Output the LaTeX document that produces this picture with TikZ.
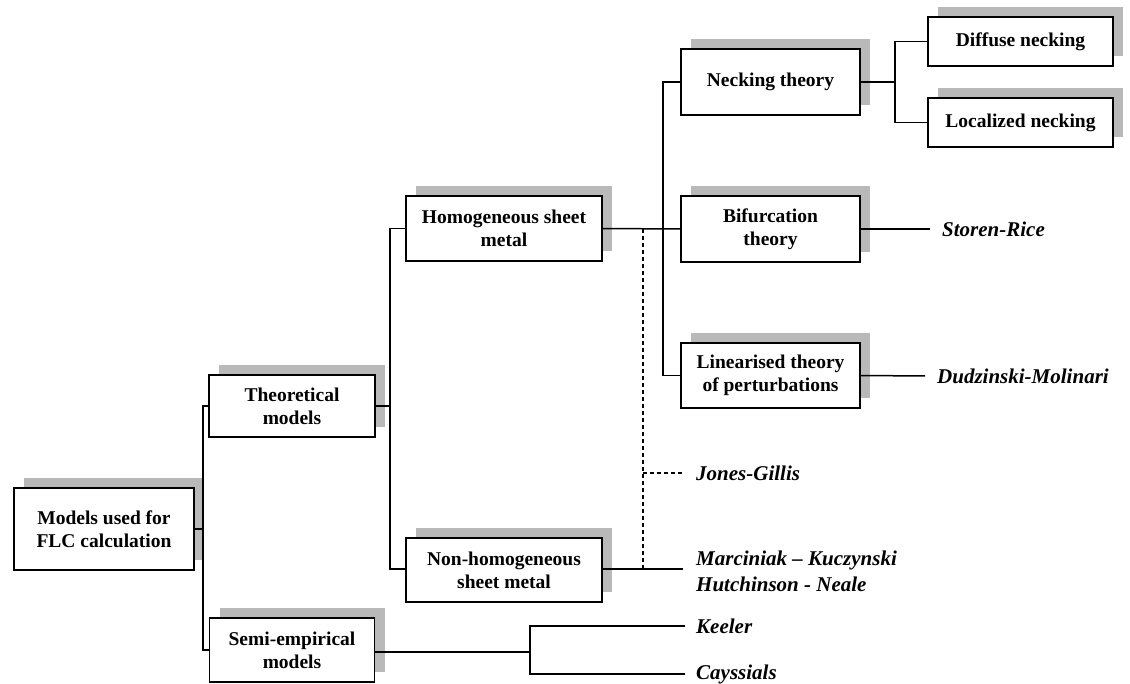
\documentclass[tikz,border=0pt]{standalone}
\usepackage{fontspec}
\setmainfont{Liberation Serif}
\usetikzlibrary{shadows}
\begin{document}
\begin{tikzpicture}[x=1pt,y=-1pt,
  box/.style={draw, line width=1.7pt, fill=white, align=center, inner sep=2pt,
    font=\bfseries\fontsize{19.5}{23}\selectfont,
    drop shadow={shadow xshift=10pt, shadow yshift=10pt, fill=gray!55, opacity=1}},
  lab/.style={anchor=west, inner sep=0pt, align=left,
    font=\bfseries\itshape\fontsize{21}{26}\selectfont},
  conn/.style={line width=1.5pt},
  dconn/.style={line width=1.5pt, dash pattern=on 4pt off 3pt}]
\useasboundingbox (0,0) rectangle (1130,684);

% boxes
\node[box, minimum width=180pt, minimum height=82pt] (models) at (104,529) {Models used for\\FLC calculation};
\node[box, minimum width=166pt, minimum height=62pt] (theo) at (292,406) {Theoretical\\models};
\node[box, minimum width=165pt, minimum height=64pt] (semi) at (292,650) {Semi-empirical\\models};
\node[box, minimum width=196pt, minimum height=65pt] (hom) at (504,228.5) {Homogeneous sheet\\metal};
\node[box, minimum width=196pt, minimum height=64pt] (nonhom) at (504,570) {Non-homogeneous\\sheet metal};
\node[box, minimum width=179pt, minimum height=66pt] (neck) at (770.5,82) {Necking theory};
\node[box, minimum width=179pt, minimum height=66pt] (bif) at (770.5,229) {Bifurcation\\theory};
\node[box, minimum width=179pt, minimum height=65pt] (lin) at (770.5,375.5) {Linearised theory\\of perturbations};
\node[box, minimum width=185pt, minimum height=49pt] (diff) at (1020.5,41.5) {Diffuse necking};
\node[box, minimum width=185pt, minimum height=49pt] (loc) at (1020.5,122.5) {Localized necking};

% italic labels
\node[lab] (storen) at (942,229) {Storen-Rice};
\node[lab] (dudz) at (937,376) {Dudzinski-Molinari};
\node[lab] (jones) at (696,473) {Jones-Gillis};
\node[lab] (marc) at (696,571) {Marciniak -- Kuczynski\\Hutchinson - Neale};
\node[lab] (keeler) at (696,626) {Keeler};
\node[lab] (cays) at (696,674) {Cayssials};

% junction coordinates
\coordinate (j1) at (203,529);
\coordinate (j2) at (390,406);
\coordinate (j3) at (663,229);
\coordinate (j4) at (895,82);
\coordinate (j5) at (530,652);
\coordinate (jd) at (643,229);
\coordinate (jdn) at (643,569);
\coordinate (jg) at (643,473);
\coordinate (mend) at (683,569);

% connectors
\draw[conn] (models.east) -- (j1);
\draw[conn] (theo.west) -| (j1) |- (semi.west);
\draw[conn] (theo.east) -- (j2);
\draw[conn] (hom.west) -| (j2) |- (nonhom.west |- 0,569);
\draw[conn] (hom.east) -- (bif.west);
\draw[conn] (neck.west) -| (j3) |- (lin.west);
\draw[conn] (neck.east) -- (j4);
\draw[conn] (diff.west) -| (j4) |- (loc.west);
\draw[conn] (bif.east) -- (storen.west -| 930,0);
\draw[conn] (lin.east) -- (dudz.west -| 925,0);
\draw[conn] (nonhom.east |- 0,569) -- (mend);
\draw[dconn] (jd) -- (jdn);
\draw[dconn] (jg) -- (jones.west -| 683,0);
\draw[conn] (semi.east |- 0,652) -- (j5);
\draw[conn] (keeler.west -| 685,0) -| (j5) |- (cays.west -| 685,0);
\end{tikzpicture}
\end{document}
